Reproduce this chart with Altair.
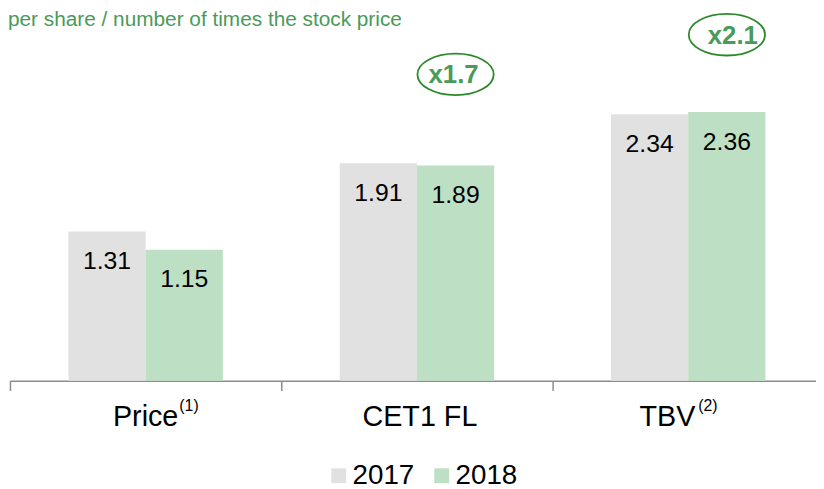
import altair as alt
import pandas as pd

# ---- data ----
categories = ["Price", "CET1 FL", "TBV"]
superscripts = ["(1)", "", "(2)"]
years = ["2017", "2018"]
values_2017 = [1.31, 1.91, 2.34]
values_2018 = [1.15, 1.89, 2.36]
multiple_labels = ["x1.7", "x2.1"]
multiple_categories = ["CET1 FL", "TBV"]
title_text = "per share / number of times the stock price"

FONT = "Liberation Sans"
W, H, YMAX = 822, 345, 3.0
GREY, GREEN = "#e1e1e1", "#bddfc4"
TXT_GREEN = "#4a9a5a"
RING_GREEN = "#2a8a2a"

bars = pd.DataFrame({
    "cat": categories * 2,
    "year": ["2017"] * 3 + ["2018"] * 3,
    "value": values_2017 + values_2018,
})
bars["label"] = bars["value"].map(lambda v: f"{v:.2f}")

cats = pd.DataFrame({"cat": categories, "sup": superscripts})
mult = pd.DataFrame({"cat": multiple_categories, "label": multiple_labels})
mult = mult.merge(bars[bars["year"] == "2018"], on="cat", suffixes=("", "_bar"))

x_enc = alt.X(
    "cat:N", sort=categories,
    scale=alt.Scale(paddingInner=0, paddingOuter=0),
    axis=alt.Axis(title=None, labels=False, bandPosition=0, domainColor="#8c8c8c",
                  tickColor="#8c8c8c", tickSize=10, domainWidth=1.5, tickWidth=1.5,
                  grid=False),
)
xo_enc = alt.XOffset("year:N", sort=years, scale=alt.Scale(paddingInner=0, paddingOuter=0.757))
y_enc = alt.Y("value:Q", scale=alt.Scale(domain=[0, YMAX]), axis=None)
color_enc = alt.Color(
    "year:N",
    scale=alt.Scale(domain=years, range=[GREY, GREEN]),
    legend=alt.Legend(title=None, orient="none", legendX=318, legendY=427,
                      direction="horizontal", symbolType="square", symbolSize=225,
                      symbolStrokeWidth=0, symbolOpacity=1, labelFontSize=28,
                      labelFont=FONT, labelColor="black", labelOffset=0,
                      columnPadding=13),
)

base = alt.Chart(bars)
bar_layer = base.mark_bar().encode(x=x_enc, xOffset=xo_enc, y=y_enc, color=color_enc)
val_layer = base.mark_text(dy=30, fontSize=25, font=FONT, color="black",
                           baseline="middle").encode(
    x=alt.X("cat:N", sort=categories), xOffset=alt.XOffset("year:N", sort=years),
    y="value:Q", text="label:N")

layers = [bar_layer, val_layer]

label_dx = {"Price": 0, "CET1 FL": 3, "TBV": -21}
sup_dx = {"Price": 34, "TBV": 10}
for c, s in zip(categories, superscripts):
    cc = alt.Chart(cats).transform_filter(alt.datum.cat == c)
    layers.append(cc.mark_text(fontSize=29, font=FONT, color="black", align="center",
                               baseline="alphabetic", dx=label_dx[c]).encode(
        x=alt.X("cat:N", sort=categories), y=alt.value(H + 46), text="cat:N"))
    if s:
        layers.append(cc.mark_text(fontSize=16, font=FONT, color="black", align="left",
                                   baseline="alphabetic", dx=sup_dx[c]).encode(
            x=alt.X("cat:N", sort=categories), y=alt.value(H + 31), text="sup:N"))

ellipse = "M-1,0 A1,0.545 0 1,1 1,0 A1,0.545 0 1,1 -1,0 Z"
mult_off = {"CET1 FL": (-2, -92), "TBV": (6, -78)}
for c in multiple_categories:
    mc = alt.Chart(mult).transform_filter(alt.datum.cat == c)
    dx, dy = mult_off[c]
    enc = dict(x=alt.X("cat:N", sort=categories), xOffset=alt.XOffset("year:N", sort=years),
               y="value:Q")
    layers.append(mc.mark_point(shape=ellipse, size=77 * 77, filled=False, stroke=RING_GREEN,
                                strokeWidth=1.8, opacity=1, xOffset=dx, yOffset=dy).encode(**enc))
    layers.append(mc.mark_text(fontSize=26, fontWeight="bold", font=FONT, color=TXT_GREEN,
                               baseline="middle", dx=dx, dy=dy + 1).encode(text="label:N", **enc))

title_layer = alt.Chart(pd.DataFrame({"t": [title_text]})).mark_text(
    align="left", baseline="alphabetic", fontSize=21, font=FONT, color=TXT_GREEN
).encode(x=alt.value(-2), y=alt.value(-13), text="t:N")
layers.append(title_layer)

chart = alt.layer(*layers).properties(
    width=W, height=H,
    padding={"left": 2, "top": 29, "right": -8, "bottom": 108},
    autosize=alt.AutoSizeParams(type="none"),
).configure_view(strokeWidth=0)

chart.save("out.html", embed_options={"renderer": "svg", "actions": False})
